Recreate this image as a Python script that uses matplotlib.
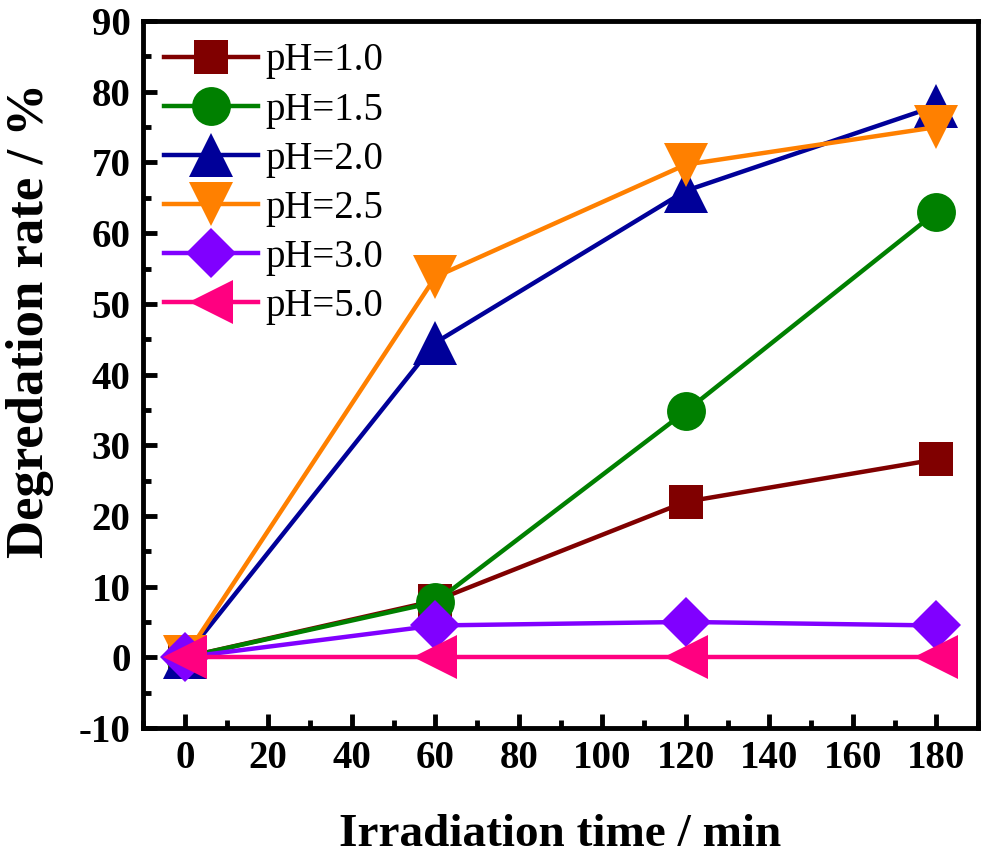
#Degradation rate versus irradiation time at several pH values
import numpy as np
import matplotlib
matplotlib.use('Agg')
import matplotlib.pyplot as plt
from matplotlib.ticker import MultipleLocator

#Data
time = [0, 60, 120, 180]
labels = ['pH=1.0', 'pH=1.5', 'pH=2.0', 'pH=2.5', 'pH=3.0', 'pH=5.0']
ph10 = [0, 8.0, 22.0, 28.0]
ph15 = [0, 7.8, 34.8, 63.0]
ph20 = [0, 44.5, 66.0, 78.0]
ph25 = [0, 53.8, 69.7, 75.0]
ph30 = [0, 4.5, 5.0, 4.5]
ph50 = [0, 0, 0, 0]
series = [ph10, ph15, ph20, ph25, ph30, ph50]

colors = ['#800000', '#008000', '#000099', '#FF8000', '#8000FF', '#FF0080']
markers = ['s', 'o', '^', 'v', 'D', '<']
msizes = [25, 28, 32, 31, 25, 32]

plt.rcParams['font.family'] = ['Liberation Serif', 'DejaVu Serif']
plt.rcParams['axes.unicode_minus'] = False

fig = plt.figure(figsize=(9.89, 8.61), dpi=100)
ax = fig.add_axes([0.1446, 0.1545, 0.8444, 0.821])

for y, lab, c, m, ms in zip(series, labels, colors, markers, msizes):
    ax.plot(time, y, color=c, marker=m, markersize=ms, linewidth=3.2,
            markeredgewidth=0, label=lab, clip_on=False)

ax.set_xlim(-10, 190)
ax.set_ylim(-10, 90)
ax.xaxis.set_major_locator(MultipleLocator(20))
ax.xaxis.set_minor_locator(MultipleLocator(10))
ax.yaxis.set_major_locator(MultipleLocator(10))
ax.yaxis.set_minor_locator(MultipleLocator(5))
ax.tick_params(which='both', direction='in', top=False, right=False, width=3.5)
ax.tick_params(which='major', length=10, labelsize=28, pad=9)
ax.tick_params(which='minor', length=5.5)
for lbl in ax.get_xticklabels() + ax.get_yticklabels():
    lbl.set_fontweight('bold')
for sp in ax.spines.values():
    sp.set_linewidth(3.5)

ax.set_xlabel('Irradiation time / min', fontsize=34, fontweight='bold', labelpad=26)
ax.set_ylabel('Degredation rate / %', fontsize=38, fontweight='bold')
ax.yaxis.set_label_coords(-0.106, 0.577)

leg = ax.legend(loc='upper left', frameon=False, fontsize=28, handlelength=2.4,
                handletextpad=0.2, labelspacing=0.31, borderaxespad=0.2,
                borderpad=0.35)

fig.savefig('out.png', dpi=100)
